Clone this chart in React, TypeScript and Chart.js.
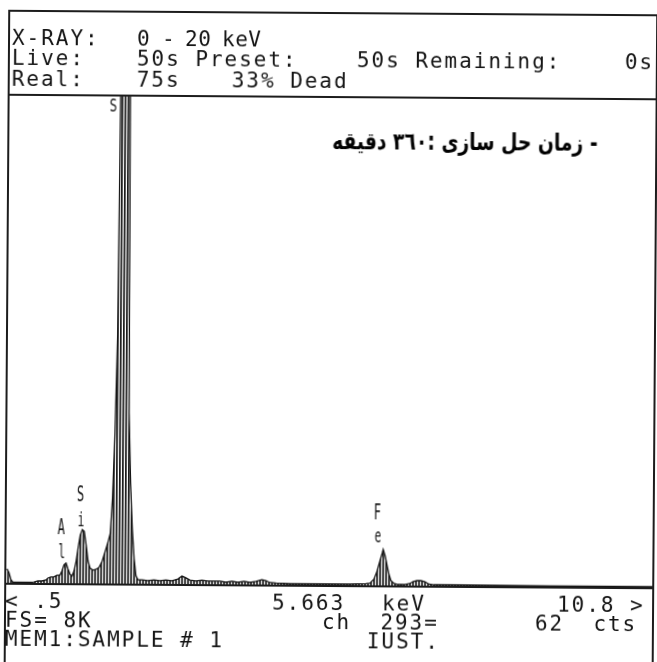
import React, { useEffect, useRef } from "react";
import { Chart, registerables } from "chart.js";

Chart.register(...registerables);

// Spectrum channels (keV) and counts
const energies = [
  0.5, 0.532, 0.564, 0.595, 0.707, 0.866, 0.929, 0.993, 1.056, 1.12, 1.152, 1.199,
  1.247, 1.295, 1.342, 1.374, 1.406, 1.438, 1.47, 1.501, 1.533, 1.565, 1.597, 1.629,
  1.66, 1.692, 1.724, 1.756, 1.788, 1.819, 1.867, 1.915, 1.962, 2.01, 2.058, 2.105,
  2.137, 2.169, 2.201, 2.233, 2.249, 2.264, 2.296, 2.328, 2.36, 2.391, 2.407, 2.423,
  2.455, 2.487, 2.519, 2.55, 2.582, 2.646, 2.741, 2.837, 2.932, 3.027, 3.123, 3.218,
  3.282, 3.345, 3.409, 3.504, 3.6, 3.695, 3.79, 3.886, 3.981, 4.076, 4.172, 4.267,
  4.362, 4.458, 4.553, 4.617, 4.68, 4.776, 4.998, 5.316, 5.634, 5.952, 6.206, 6.27,
  6.333, 6.381, 6.429, 6.461, 6.477, 6.508, 6.54, 6.572, 6.604, 6.652, 6.715, 6.81,
  6.906, 6.953, 7.017, 7.081, 7.144, 7.208, 7.288, 7.542, 8.336, 9.131, 9.926, 10.8,
];
const counts = [
  230, 165, 50, 8, 8, 10, 16, 33, 33, 50, 82, 100,
  100, 130, 130, 200, 300, 330, 230, 150, 115, 200, 360, 590,
  790, 880, 850, 620, 360, 250, 215, 230, 260, 360, 525, 690,
  820, 1400, 2460, 4100, 6980, 9800, 14000, 17500, 16000, 11500, 8600, 2800,
  1640, 900, 410, 130, 65, 65, 50, 65, 50, 65, 50, 80,
  130, 100, 65, 50, 65, 50, 50, 50, 33, 50, 33, 50,
  33, 50, 80, 65, 33, 25, 16, 16, 16, 16, 25, 33,
  100, 230, 410, 525, 590, 490, 330, 180, 80, 33, 16, 16,
  33, 65, 82, 82, 65, 25, 16, 16, 12, 10, 10, 10,
];
const FULL_SCALE = 8000; // FS= 8K
const X_MIN = 0.473;
const X_MAX = 10.773;

const MONO = '"DejaVu Sans Mono", monospace';
const INK = "#141414";

function T({ x, y, children, size = 21, sx, ls }: any) {
  const spacing = ls !== undefined ? ls : 14.6 - 0.602 * size;
  return (
    <div
      style={{
        position: "absolute",
        left: x,
        top: y - 0.846 * size,
        fontFamily: MONO,
        fontSize: size,
        lineHeight: size + "px",
        letterSpacing: spacing,
        whiteSpace: "pre",
        color: INK,
        transform: sx ? `scaleX(${sx})` : undefined,
        transformOrigin: "left center",
      }}
    >
      {children}
    </div>
  );
}

function Line({ x, y, w, h }: any) {
  return <div style={{ position: "absolute", left: x, top: y, width: w, height: h, background: "#1c1c1c" }} />;
}

export default function App() {
  const ref = useRef<HTMLCanvasElement | null>(null);

  useEffect(() => {
    const canvas = ref.current;
    if (!canvas) return;
    const pc = document.createElement("canvas");
    pc.width = 3;
    pc.height = 1;
    const pctx = pc.getContext("2d")!;
    pctx.fillStyle = "#1a1a1a";
    pctx.fillRect(0, 0, 1, 1);
    pctx.fillStyle = "#5a5a5a";
    pctx.fillRect(1, 0, 1, 1);
    const ctx = canvas.getContext("2d")!;
    const pattern = ctx.createPattern(pc, "repeat")!;

    const chart = new Chart(canvas, {
      type: "line",
      data: {
        datasets: [
          {
            data: energies.map((e, i) => ({ x: e, y: counts[i] })),
            borderColor: INK,
            borderWidth: 1.3,
            pointRadius: 0,
            tension: 0,
            fill: "origin",
            backgroundColor: pattern as any,
          },
        ],
      },
      options: {
        responsive: false,
        animation: false,
        events: [],
        layout: { padding: { left: 7, right: 2, top: 97, bottom: 77 } },
        scales: {
          x: { type: "linear", min: X_MIN, max: X_MAX, display: false },
          y: { min: 0, max: FULL_SCALE, display: false },
        },
        plugins: { legend: { display: false }, tooltip: { enabled: false } },
      },
    });
    return () => chart.destroy();
  }, []);

  return (
    <div style={{ position: "fixed", left: 0, top: 0, width: 657, height: 662, overflow: "hidden", background: "#fff" }}>
      <div
        style={{
          position: "absolute",
          left: 0,
          top: 0,
          width: 657,
          height: 662,
          transform: "rotate(0.4deg)",
          transformOrigin: "328px 331px",
          filter: "grayscale(1)",
        }}
      >
        {/* label partly hidden behind the off-scale peak */}
        <T x={108} y={113} size={18} sx={0.7} ls={0}>S</T>

        <canvas ref={ref} width={657} height={662} style={{ position: "absolute", left: 0, top: 0, width: 657, height: 662 }} />

        {/* element labels */}
        <T x={59} y={537} size={22} sx={0.55} ls={0}>A</T>
        <T x={59.5} y={560} size={20} sx={0.55} ls={0}>l</T>
        <T x={78} y={504} size={22} sx={0.55} ls={0}>S</T>
        <T x={79} y={528} size={20} sx={0.55} ls={0}>i</T>
        <T x={375} y={520} size={22} sx={0.55} ls={0}>F</T>
        <T x={376} y={542} size={20} sx={0.55} ls={0}>e</T>

        {/* frame */}
        <Line x={6} y={12} w={660} h={2} />
        <Line x={6} y={96} w={660} h={2} />
        <Line x={6} y={584.5} w={650} h={2} />
        <Line x={6} y={12} w={2} h={660} />
        <Line x={654} y={12} w={2} h={660} />

        {/* header */}
        <T x={10} y={47.5}>X-RAY:</T>
        <T x={135} y={47.5}>0</T>
        <T x={160} y={47.5}>-</T>
        <T x={183} y={47.5} ls={0.5}>20</T>
        <T x={220} y={47.5} ls={0.5}>keV</T>
        <T x={10} y={67.5}>Live:</T>
        <T x={135} y={67.5}>50s Preset:</T>
        <T x={355} y={67.5}>50s Remaining:</T>
        <T x={623} y={67.5}>0s</T>
        <T x={10} y={88.5}>Real:</T>
        <T x={135} y={88.5}>75s</T>
        <T x={230} y={88.5}>33% Dead</T>

        {/* note */}
        <div
          style={{
            position: "absolute",
            right: 61,
            top: 149 - 0.846 * 24,
            fontFamily: '"DejaVu Sans", sans-serif',
            fontWeight: "bold",
            fontSize: 24,
            lineHeight: "24px",
            direction: "rtl",
            whiteSpace: "pre",
            color: "#000",
            transform: "scaleX(0.78)",
            transformOrigin: "right center",
          }}
        >
          - زمان حل سازی :٣٦٠ دقیقه
        </div>

        {/* footer */}
        <T x={7} y={611}>{"< .5"}</T>
        <T x={274} y={611}>5.663</T>
        <T x={384} y={611}>keV</T>
        <T x={559} y={611}>{"10.8 >"}</T>
        <T x={7} y={630}>FS= 8K</T>
        <T x={324} y={630}>{"ch  293="}</T>
        <T x={537} y={630}>{"62  cts"}</T>
        <T x={7} y={649}>MEM1:SAMPLE # 1</T>
        <T x={369} y={649}>IUST.</T>
      </div>
    </div>
  );
}
